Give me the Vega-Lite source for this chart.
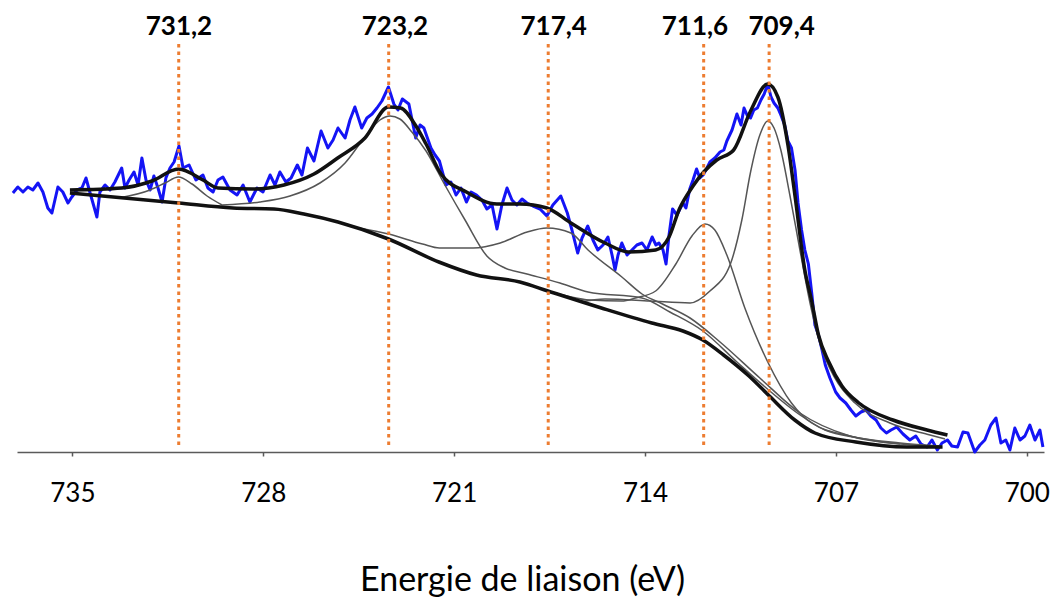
{
  "$schema": "https://vega.github.io/schema/vega-lite/v6.json",
  "width": 1027,
  "height": 452,
  "autosize": {"type": "none"},
  "padding": {"left": 17, "top": 0, "right": 8, "bottom": 145},
  "background": "white",
  "config": {"view": {"stroke": null}, "axis": {"grid": false}},
  "datasets": {
    "peaks": [
      {"pos": 731.1, "label": "731,2", "label_pos": 731.09},
      {"pos": 723.4, "label": "723,2", "label_pos": 723.17},
      {"pos": 717.55, "label": "717,4", "label_pos": 717.35},
      {"pos": 711.85, "label": "711,6", "label_pos": 712.17},
      {"pos": 709.45, "label": "709,4", "label_pos": 708.99}
    ],
    "raw": [
      {"E":737.18,"I":259},{"E":737.00,"I":265},{"E":736.81,"I":260},{"E":736.63,"I":265},{"E":736.45,"I":262},{"E":736.26,"I":269},{"E":736.08,"I":260},{"E":735.90,"I":244},{"E":735.75,"I":239},{"E":735.64,"I":252},
      {"E":735.53,"I":265},{"E":735.35,"I":260},{"E":735.16,"I":249},{"E":735.02,"I":255},{"E":734.83,"I":262},{"E":734.65,"I":264},{"E":734.50,"I":274},{"E":734.36,"I":260},{"E":734.10,"I":235},{"E":733.99,"I":260},
      {"E":733.80,"I":267},{"E":733.62,"I":262},{"E":733.44,"I":270},{"E":733.19,"I":284},{"E":733.07,"I":264},{"E":732.92,"I":272},{"E":732.74,"I":280},{"E":732.59,"I":267},{"E":732.45,"I":294},{"E":732.30,"I":272},
      {"E":732.15,"I":262},{"E":732.01,"I":276},{"E":731.86,"I":264},{"E":731.71,"I":250},{"E":731.57,"I":274},{"E":731.42,"I":284},{"E":731.27,"I":290},{"E":731.09,"I":306},{"E":730.94,"I":284},{"E":730.72,"I":287},
      {"E":730.47,"I":272},{"E":730.21,"I":277},{"E":730.03,"I":264},{"E":729.84,"I":260},{"E":729.66,"I":272},{"E":729.48,"I":275},{"E":729.22,"I":262},{"E":728.96,"I":257},{"E":728.74,"I":267},{"E":728.49,"I":250},
      {"E":728.23,"I":264},{"E":728.01,"I":260},{"E":727.75,"I":277},{"E":727.57,"I":267},{"E":727.39,"I":280},{"E":727.17,"I":270},{"E":726.98,"I":274},{"E":726.75,"I":287},{"E":726.58,"I":277},{"E":726.38,"I":304},
      {"E":726.14,"I":291},{"E":725.88,"I":321},{"E":725.63,"I":304},{"E":725.44,"I":312},{"E":725.26,"I":324},{"E":725.00,"I":314},{"E":724.82,"I":332},{"E":724.64,"I":345},{"E":724.39,"I":324},{"E":724.20,"I":334},
      {"E":724.01,"I":338},{"E":723.83,"I":344},{"E":723.65,"I":351},{"E":723.41,"I":365},{"E":723.21,"I":348},{"E":723.06,"I":342},{"E":722.90,"I":353},{"E":722.66,"I":348},{"E":722.41,"I":314},{"E":722.25,"I":327},
      {"E":722.11,"I":324},{"E":721.85,"I":304},{"E":721.70,"I":297},{"E":721.54,"I":291},{"E":721.30,"I":267},{"E":721.12,"I":270},{"E":720.93,"I":257},{"E":720.75,"I":264},{"E":720.55,"I":250},{"E":720.38,"I":260},
      {"E":720.18,"I":257},{"E":719.98,"I":252},{"E":719.80,"I":243},{"E":719.61,"I":247},{"E":719.43,"I":223},{"E":719.25,"I":247},{"E":719.06,"I":264},{"E":718.88,"I":252},{"E":718.70,"I":247},{"E":718.51,"I":253},
      {"E":718.33,"I":249},{"E":718.11,"I":246},{"E":717.85,"I":243},{"E":717.60,"I":236},{"E":717.38,"I":247},{"E":717.09,"I":256},{"E":716.85,"I":239},{"E":716.68,"I":222},{"E":716.47,"I":199},{"E":716.31,"I":214},
      {"E":716.10,"I":226},{"E":715.91,"I":212},{"E":715.73,"I":202},{"E":715.54,"I":207},{"E":715.36,"I":215},{"E":715.21,"I":197},{"E":715.10,"I":182},{"E":714.99,"I":197},{"E":714.85,"I":209},{"E":714.66,"I":197},
      {"E":714.48,"I":202},{"E":714.30,"I":207},{"E":714.11,"I":209},{"E":713.93,"I":202},{"E":713.74,"I":215},{"E":713.60,"I":207},{"E":713.49,"I":209},{"E":713.34,"I":202},{"E":713.23,"I":188},{"E":713.12,"I":217},
      {"E":712.99,"I":243},{"E":712.83,"I":237},{"E":712.61,"I":249},{"E":712.50,"I":244},{"E":712.36,"I":263},{"E":712.24,"I":272},{"E":712.11,"I":283},{"E":711.99,"I":274},{"E":711.87,"I":277},{"E":711.73,"I":284},
      {"E":711.62,"I":290},{"E":711.44,"I":294},{"E":711.25,"I":300},{"E":711.11,"I":302},{"E":711.00,"I":311},{"E":710.81,"I":322},{"E":710.63,"I":338},{"E":710.48,"I":327},{"E":710.37,"I":344},{"E":710.26,"I":337},
      {"E":710.13,"I":334},{"E":710.01,"I":342},{"E":709.88,"I":344},{"E":709.75,"I":352},{"E":709.63,"I":358},{"E":709.50,"I":368},{"E":709.38,"I":355},{"E":709.27,"I":349},{"E":709.13,"I":344},{"E":709.02,"I":337},
      {"E":708.88,"I":327},{"E":708.76,"I":311},{"E":708.63,"I":304},{"E":708.50,"I":282},{"E":708.39,"I":249},{"E":708.26,"I":222},{"E":708.14,"I":202},{"E":708.01,"I":188},{"E":707.88,"I":157},{"E":707.77,"I":127},
      {"E":707.64,"I":117},{"E":707.51,"I":102},{"E":707.39,"I":87},{"E":707.22,"I":74},{"E":707.01,"I":60},{"E":706.85,"I":54},{"E":706.64,"I":49},{"E":706.45,"I":42},{"E":706.27,"I":36},{"E":706.08,"I":40},
      {"E":705.90,"I":42},{"E":705.72,"I":36},{"E":705.53,"I":32},{"E":705.35,"I":24},{"E":705.15,"I":19},{"E":704.98,"I":22},{"E":704.77,"I":25},{"E":704.54,"I":18},{"E":704.29,"I":12},{"E":704.07,"I":16},
      {"E":703.88,"I":8},{"E":703.66,"I":5},{"E":703.48,"I":12},{"E":703.28,"I":2},{"E":703.11,"I":9},{"E":702.91,"I":12},{"E":702.75,"I":6},{"E":702.54,"I":5},{"E":702.34,"I":20},{"E":702.16,"I":19},
      {"E":701.91,"I":0},{"E":701.72,"I":7},{"E":701.54,"I":12},{"E":701.32,"I":27},{"E":701.13,"I":34},{"E":700.95,"I":9},{"E":700.77,"I":12},{"E":700.62,"I":2},{"E":700.44,"I":24},{"E":700.25,"I":12},
      {"E":700.07,"I":16},{"E":699.89,"I":27},{"E":699.70,"I":12},{"E":699.52,"I":22},{"E":699.41,"I":5}
    ],
    "thick": [
      {"s":"fit","E":735.09,"I":262},{"s":"fit","E":733.19,"I":264},{"s":"fit","E":732.08,"I":271},{"s":"fit","E":731.11,"I":283},{"s":"fit","E":730.21,"I":272},{"s":"fit","E":729.66,"I":264},{"s":"fit","E":728.36,"I":263},{"s":"fit","E":727.24,"I":267},{"s":"fit","E":726.14,"I":278},{"s":"fit","E":725.27,"I":294},
      {"s":"fit","E":724.27,"I":314},{"s":"fit","E":723.41,"I":345},{"s":"fit","E":722.97,"I":344},{"s":"fit","E":722.40,"I":326},{"s":"fit","E":722.03,"I":308},{"s":"fit","E":721.48,"I":278},{"s":"fit","E":720.55,"I":260},{"s":"fit","E":719.43,"I":248},{"s":"fit","E":718.59,"I":248},{"s":"fit","E":717.60,"I":244},
      {"s":"fit","E":716.72,"I":229},{"s":"fit","E":715.47,"I":209},{"s":"fit","E":714.60,"I":200},{"s":"fit","E":713.61,"I":202},{"s":"fit","E":713.12,"I":215},{"s":"fit","E":712.74,"I":243},{"s":"fit","E":712.24,"I":266},{"s":"fit","E":711.85,"I":280},{"s":"fit","E":711.37,"I":292},{"s":"fit","E":710.75,"I":302},
      {"s":"fit","E":710.13,"I":341},{"s":"fit","E":709.50,"I":368},{"s":"fit","E":709.13,"I":355},{"s":"fit","E":708.76,"I":307},{"s":"fit","E":708.50,"I":256},{"s":"fit","E":708.14,"I":182},{"s":"fit","E":707.89,"I":151},{"s":"fit","E":707.64,"I":117},{"s":"fit","E":707.26,"I":90},{"s":"fit","E":706.78,"I":66},
      {"s":"fit","E":706.16,"I":49},{"s":"fit","E":704.91,"I":32},{"s":"fit","E":703.66,"I":22},{"s":"fit","E":702.91,"I":17},
      {"s":"bg","E":735.09,"I":259},{"s":"bg","E":731.11,"I":249},{"s":"bg","E":729.11,"I":244},{"s":"bg","E":727.61,"I":243},{"s":"bg","E":726.51,"I":238},{"s":"bg","E":725.26,"I":230},{"s":"bg","E":723.41,"I":213},{"s":"bg","E":721.56,"I":190},{"s":"bg","E":720.18,"I":177},{"s":"bg","E":718.59,"I":170},
      {"s":"bg","E":717.56,"I":161},{"s":"bg","E":715.60,"I":144},{"s":"bg","E":713.75,"I":129},{"s":"bg","E":712.61,"I":121},{"s":"bg","E":711.88,"I":112},{"s":"bg","E":711.12,"I":97},{"s":"bg","E":710.19,"I":76},{"s":"bg","E":709.44,"I":56},{"s":"bg","E":708.51,"I":32},{"s":"bg","E":707.77,"I":19},
      {"s":"bg","E":706.27,"I":10},{"s":"bg","E":704.40,"I":5},{"s":"bg","E":703.09,"I":5}
    ],
    "comps": [
      {"s":"c731","E":733.30,"I":254},{"s":"c731","E":732.15,"I":262},{"s":"c731","E":731.60,"I":269},{"s":"c731","E":731.11,"I":275},{"s":"c731","E":730.61,"I":268},{"s":"c731","E":730.06,"I":256},{"s":"c731","E":729.51,"I":247},
      {"s":"c723","E":729.51,"I":247},{"s":"c723","E":728.12,"I":250},{"s":"c723","E":727.02,"I":256},{"s":"c723","E":725.92,"I":269},{"s":"c723","E":725.00,"I":289},{"s":"c723","E":724.27,"I":315},{"s":"c723","E":723.72,"I":332},{"s":"c723","E":723.35,"I":336},{"s":"c723","E":722.99,"I":333},
      {"s":"c723","E":722.55,"I":320},{"s":"c723","E":722.03,"I":301},{"s":"c723","E":721.34,"I":267},{"s":"c723","E":720.60,"I":232},{"s":"c723","E":719.80,"I":196},{"s":"c723","E":719.14,"I":184},{"s":"c723","E":718.33,"I":178},{"s":"c723","E":717.12,"I":169},{"s":"c723","E":716.09,"I":160},{"s":"c723","E":714.11,"I":154},
      {"s":"c723","E":713.09,"I":140},{"s":"c723","E":711.88,"I":121},{"s":"c723","E":710.63,"I":90},{"s":"c723","E":709.64,"I":66},{"s":"c723","E":708.26,"I":36},{"s":"c723","E":707.40,"I":22},{"s":"c723","E":706.16,"I":14},{"s":"c723","E":704.65,"I":8},{"s":"c723","E":703.19,"I":6},
      {"s":"c717","E":724.50,"I":224},{"s":"c717","E":723.41,"I":218},{"s":"c717","E":722.16,"I":208},{"s":"c717","E":721.54,"I":204},{"s":"c717","E":720.30,"I":204},{"s":"c717","E":719.31,"I":209},{"s":"c717","E":718.32,"I":220},{"s":"c717","E":717.60,"I":224},{"s":"c717","E":716.72,"I":219},{"s":"c717","E":716.09,"I":202},
      {"s":"c717","E":714.85,"I":175},{"s":"c717","E":714.11,"I":158},{"s":"c717","E":713.36,"I":148},{"s":"c717","E":712.35,"I":134},{"s":"c717","E":711.25,"I":110},{"s":"c717","E":709.79,"I":74},{"s":"c717","E":708.32,"I":39},{"s":"c717","E":706.49,"I":16},{"s":"c717","E":704.65,"I":8},
      {"s":"c711","E":717.56,"I":161},{"s":"c711","E":716.02,"I":152},{"s":"c711","E":714.85,"I":151},{"s":"c711","E":714.35,"I":154},{"s":"c711","E":713.61,"I":161},{"s":"c711","E":712.87,"I":188},{"s":"c711","E":712.28,"I":216},{"s":"c711","E":711.80,"I":228},{"s":"c711","E":711.44,"I":222},{"s":"c711","E":711.00,"I":197},
      {"s":"c711","E":710.34,"I":144},{"s":"c711","E":709.50,"I":90},{"s":"c711","E":708.63,"I":49},{"s":"c711","E":707.89,"I":29},{"s":"c711","E":706.49,"I":16},{"s":"c711","E":704.65,"I":9},{"s":"c711","E":703.19,"I":6},
      {"s":"c709","E":716.39,"I":150},{"s":"c709","E":715.47,"I":153},{"s":"c709","E":713.82,"I":151},{"s":"c709","E":712.35,"I":149},{"s":"c709","E":711.62,"I":161},{"s":"c709","E":710.87,"I":188},{"s":"c709","E":710.45,"I":232},{"s":"c709","E":710.13,"I":280},{"s":"c709","E":709.79,"I":317},{"s":"c709","E":709.50,"I":331},
      {"s":"c709","E":709.27,"I":324},{"s":"c709","E":709.02,"I":302},{"s":"c709","E":708.69,"I":257},{"s":"c709","E":708.32,"I":202},{"s":"c709","E":707.95,"I":149},{"s":"c709","E":707.59,"I":109},{"s":"c709","E":707.04,"I":74},{"s":"c709","E":706.30,"I":49},{"s":"c709","E":705.02,"I":29},{"s":"c709","E":703.55,"I":17},
      {"s":"c709","E":703.00,"I":13}
    ]
  },
  "layer": [
    {
      "data": {"name": "raw"},
      "mark": {"type": "line", "color": "#1414f5", "strokeWidth": 3, "strokeJoin": "round"},
      "encoding": {
        "x": {
          "field": "E", "type": "quantitative",
          "scale": {"domain": [699.37, 737.03], "reverse": true, "nice": false, "zero": false},
          "axis": {
            "values": [735, 728, 721, 714, 707, 700],
            "format": "d",
            "title": "Energie de liaison (eV)",
            "domainColor": "#5a5a5a", "domainWidth": 1.5,
            "tickColor": "#5a5a5a", "tickSize": 4, "tickWidth": 1.5,
            "labelFont": "Lato", "labelFontSize": 26, "labelColor": "#000000", "labelPadding": 24,
            "labelFlush": false,
            "titleFont": "Lato", "titleFontSize": 34, "titleFontWeight": "normal", "titleColor": "#000000",
            "titleBaseline": "alphabetic", "titleY": 138, "titleX": 505
          }
        },
        "y": {
          "field": "I", "type": "quantitative",
          "scale": {"domain": [0, 452], "nice": false, "zero": false},
          "axis": null
        }
      }
    },
    {
      "data": {"name": "comps"},
      "mark": {"type": "line", "color": "#555555", "strokeWidth": 1.5, "interpolate": "monotone"},
      "encoding": {
        "x": {"field": "E", "type": "quantitative"},
        "y": {"field": "I", "type": "quantitative"},
        "detail": {"field": "s"}
      }
    },
    {
      "data": {"name": "thick"},
      "mark": {"type": "line", "color": "#111111", "strokeWidth": 3.5, "interpolate": "monotone"},
      "encoding": {
        "x": {"field": "E", "type": "quantitative"},
        "y": {"field": "I", "type": "quantitative"},
        "detail": {"field": "s"}
      }
    },
    {
      "data": {"name": "peaks"},
      "mark": {"type": "rule", "color": "#ed7d31", "strokeWidth": 3, "strokeDash": [3.5, 4]},
      "encoding": {
        "x": {"field": "pos", "type": "quantitative"},
        "y": {"datum": 7, "type": "quantitative"},
        "y2": {"datum": 408}
      }
    },
    {
      "data": {"name": "peaks"},
      "mark": {"type": "text", "font": "Lato", "fontSize": 26, "fontWeight": "bold", "color": "#000000", "baseline": "alphabetic", "align": "center"},
      "encoding": {
        "x": {"field": "label_pos", "type": "quantitative"},
        "y": {"datum": 417, "type": "quantitative"},
        "text": {"field": "label"}
      }
    }
  ]
}
